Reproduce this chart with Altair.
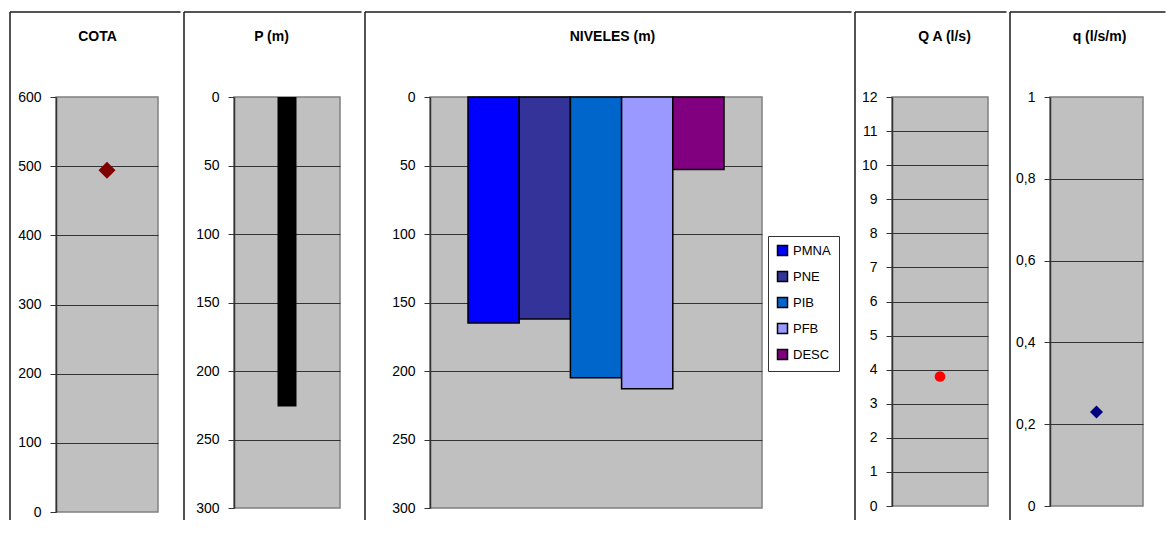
import altair as alt
import pandas as pd

# ---------------- data ----------------
TITLES = ["COTA", "P (m)", "NIVELES (m)", "Q A (l/s)", "q (l/s/m)"]

COTA_VALUE = [494]
P_VALUE = [226]
NIVEL_SERIES = ["PMNA", "PNE", "PIB", "PFB", "DESC"]
NIVEL_VALUES = [165, 162, 205, 213, 53]
NIVEL_COLORS = ["#0000FF", "#333399", "#0066CC", "#9999FF", "#800080"]
QA_VALUE = [3.8]
Q_VALUE = [0.23]

COTA_TICKS = [0, 100, 200, 300, 400, 500, 600]
P_TICKS = [0, 50, 100, 150, 200, 250, 300]
NIVEL_TICKS = [0, 50, 100, 150, 200, 250, 300]
QA_TICKS = list(range(0, 13))
Q_TICKS = [0, 0.2, 0.4, 0.6, 0.8, 1]

FONT = "Liberation Sans"

# ---------------- layout (page pixels) ----------------
LAYOUT = {
    "COTA": dict(tx=97.5, bl=10, br=183, pl=56, w=102, h=415),
    "P": dict(tx=270.5, bl=183, br=363, pl=233, w=106, h=411),
    "NIV": dict(tx=610.5, bl=363, br=852, pl=428, w=332, h=411),
    "QA": dict(tx=942.5, bl=853, br=1007, pl=890, w=96, h=409),
    "Q": dict(tx=1096.5, bl=1007, br=1165, pl=1047, w=93, h=409),
}
PLOT_TOP = 97
TOP_LINE = 12
BOTTOM_LINE = 520

one = pd.DataFrame({"k": [0]})


def frame(title, g):
    pl = g["pl"]
    v = alt.Chart(one).mark_rule(color="#1a1a1a", strokeWidth=1.5).encode(
        x=alt.value(g["bl"] - pl),
        y=alt.value(TOP_LINE - PLOT_TOP),
        y2=alt.value(BOTTOM_LINE - PLOT_TOP),
    )
    h = alt.Chart(one).mark_rule(color="#1a1a1a", strokeWidth=1.5).encode(
        x=alt.value(g["bl"] - pl),
        x2=alt.value(g["br"] - pl - 2.5),
        y=alt.value(TOP_LINE - PLOT_TOP),
    )
    t = alt.Chart(one).mark_text(
        text=title, font=FONT, fontSize=14, fontWeight="bold", color="black",
        align="center", baseline="alphabetic",
    ).encode(x=alt.value(g["tx"] - pl), y=alt.value(41 - PLOT_TOP))
    return [v, h, t]


def yaxis(values, lo, hi, label_expr=None):
    kw = dict(
        values=values, title=None, grid=True, gridColor="#333333", gridWidth=1,
        gridOpacity={"condition": {"test": f"datum.value == {lo} || datum.value == {hi}", "value": 0}, "value": 1},
        domainColor="#333333", domainWidth=1.5, tickColor="#333333", tickSize=6, tickWidth=1,
        labelFont=FONT, labelFontSize=14, labelColor="black", labelPadding=9,
    )
    if label_expr:
        kw["labelExpr"] = label_expr
    return alt.Axis(**kw)


# ---------------- COTA ----------------
g = LAYOUT["COTA"]
df_cota = pd.DataFrame({"cat": ["COTA"], "v": COTA_VALUE})
cota_pt = alt.Chart(df_cota).mark_point(shape="diamond", filled=True, size=289, color="#800000", opacity=1).encode(
    x=alt.X("cat:N", axis=None),
    y=alt.Y("v:Q", scale=alt.Scale(domain=[0, 600], nice=False), axis=yaxis(COTA_TICKS, 0, 600)),
)
p1 = alt.layer(*frame(TITLES[0], g), cota_pt).properties(width=g["w"], height=g["h"])

# ---------------- P ----------------
g = LAYOUT["P"]
df_p = pd.DataFrame({"cat": ["P"], "v": P_VALUE})
p_bar = alt.Chart(df_p).mark_bar(color="#000000", size=19).encode(
    x=alt.X("cat:N", axis=None),
    y=alt.Y("v:Q", scale=alt.Scale(domain=[0, 300], reverse=True, nice=False), axis=yaxis(P_TICKS, 0, 300)),
)
p2 = alt.layer(*frame(TITLES[1], g), p_bar).properties(width=g["w"], height=g["h"])

# ---------------- NIVELES ----------------
g = LAYOUT["NIV"]
df_n = pd.DataFrame({"serie": NIVEL_SERIES, "v": NIVEL_VALUES})
n_bar = alt.Chart(df_n).mark_bar(stroke="#000000", strokeWidth=1.5).encode(
    x=alt.X("serie:N", axis=None, sort=NIVEL_SERIES, scale=alt.Scale(paddingInner=0, paddingOuter=0.742)),
    y=alt.Y("v:Q", scale=alt.Scale(domain=[0, 300], reverse=True, nice=False), axis=yaxis(NIVEL_TICKS, 0, 300)),
    color=alt.Color(
        "serie:N",
        scale=alt.Scale(domain=NIVEL_SERIES, range=NIVEL_COLORS),
        legend=alt.Legend(
            orient="none", legendX=766 - g["pl"], legendY=236 - PLOT_TOP, title=None,
            strokeColor="#333333", fillColor="#FFFFFF", padding=8,
            symbolType="square", symbolSize=100, symbolStrokeColor="#000000", symbolStrokeWidth=1.5,
            labelFont=FONT, labelFontSize=13, labelColor="black", labelOffset=4, rowPadding=9,
        ),
    ),
)
p3 = alt.layer(*frame(TITLES[2], g), n_bar).properties(width=g["w"], height=g["h"])

# ---------------- Q A ----------------
g = LAYOUT["QA"]
df_qa = pd.DataFrame({"cat": ["QA"], "v": QA_VALUE})
qa_pt = alt.Chart(df_qa).mark_circle(size=113, color="#FF0000", opacity=1).encode(
    x=alt.X("cat:N", axis=None),
    y=alt.Y("v:Q", scale=alt.Scale(domain=[0, 12], nice=False), axis=yaxis(QA_TICKS, 0, 12)),
)
p4 = alt.layer(*frame(TITLES[3], g), qa_pt).properties(width=g["w"], height=g["h"])

# ---------------- q ----------------
g = LAYOUT["Q"]
df_q = pd.DataFrame({"cat": ["q"], "v": Q_VALUE})
q_pt = alt.Chart(df_q).mark_point(shape="diamond", filled=True, size=169, color="#000080", opacity=1).encode(
    x=alt.X("cat:N", axis=None),
    y=alt.Y("v:Q", scale=alt.Scale(domain=[0, 1], nice=False),
            axis=yaxis(Q_TICKS, 0, 1, "replace(format(datum.value, '~g'), '.', ',')")),
)
p5 = alt.layer(*frame(TITLES[4], g), q_pt).properties(width=g["w"], height=g["h"])

chart = (
    alt.hconcat(p1, p2, p3, p4, p5, spacing=0)
    .resolve_legend(color="independent")
    .properties(padding={"left": 0, "top": 2, "right": 0, "bottom": 0}, background="#FFFFFF")
    .configure(font=FONT)
    .configure_view(fill="#C0C0C0", stroke="#808080", strokeWidth=1.5)
)

chart.save("out.html", embed_options={"renderer": "svg", "actions": False})
